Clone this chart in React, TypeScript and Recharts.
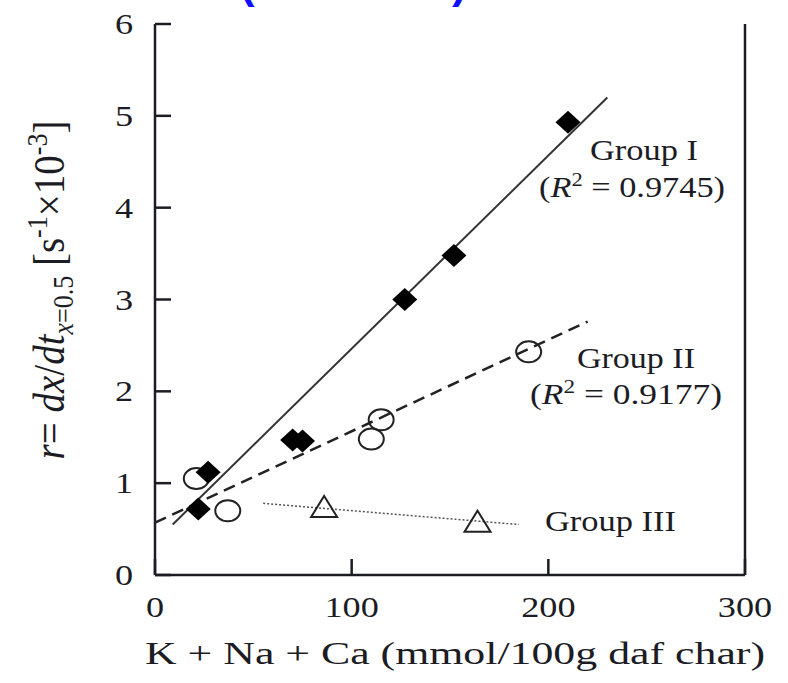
import { ScatterChart, Scatter, XAxis, YAxis } from 'recharts';

// Group I (filled diamonds)
const groupIX = [22, 27, 70, 75, 127, 152, 210];
const groupIY = [0.72, 1.12, 1.47, 1.46, 3.0, 3.48, 4.93];
// Group II (open circles)
const groupIIX = [21, 37, 110, 115, 190];
const groupIIY = [1.05, 0.7, 1.48, 1.69, 2.43];
// Group III (open triangles)
const groupIIIX = [86, 164];
const groupIIIY = [0.73, 0.57];

// fitted lines (end points)
const fitIX = [9, 230];
const fitIY = [0.55, 5.2];
const fitIIX = [0, 220];
const fitIIY = [0.57, 2.76];
const fitIIIX = [55, 185];
const fitIIIY = [0.78, 0.55];

const xTicks = [0, 100, 200, 300];
const xTicksTop = [100, 200];
const yTicks = [0, 1, 2, 3, 4, 5, 6];
const yTicksRight = [1, 2, 3, 4, 5];

const zip = (xs: number[], ys: number[]) => xs.map((x, i) => ({ x, y: ys[i] }));

const INK = '#1c1c24';
const FONT = '"Liberation Serif", "Times New Roman", serif';
const TICK = 16;

const BottomTick = (props: any) => {
  const { x, y, payload } = props;
  return (
    <g>
      <line x1={x} y1={y} x2={x} y2={y - TICK} stroke={INK} strokeWidth={2.5} />
      <text
        transform={`translate(${x},${y + 42}) scale(1.25,1)`}
        textAnchor="middle"
        fontFamily={FONT}
        fontSize={29}
        fill={INK}
      >
        {payload.value}
      </text>
    </g>
  );
};

const TopTick = (props: any) => {
  const { x, y } = props;
  return <line x1={x} y1={y} x2={x} y2={y + TICK} stroke={INK} strokeWidth={2.5} />;
};

const LeftTick = (props: any) => {
  const { x, y, payload } = props;
  return (
    <g>
      <line x1={x} y1={y} x2={x + TICK} y2={y} stroke={INK} strokeWidth={2.5} />
      <text
        transform={`translate(${x - 22},${y + 10}) scale(1.25,1)`}
        textAnchor="end"
        fontFamily={FONT}
        fontSize={29}
        fill={INK}
      >
        {payload.value}
      </text>
    </g>
  );
};

const RightTick = (props: any) => {
  const { x, y } = props;
  return <line x1={x} y1={y} x2={x - TICK} y2={y} stroke={INK} strokeWidth={2.5} />;
};

const Diamond = (props: any) => {
  const { cx, cy } = props;
  return (
    <polygon
      points={`${cx},${cy - 11.5} ${cx + 12.5},${cy} ${cx},${cy + 11.5} ${cx - 12.5},${cy}`}
      fill="#000"
    />
  );
};

const Circle = (props: any) => {
  const { cx, cy } = props;
  return <ellipse cx={cx} cy={cy} rx={12.5} ry={10.5} fill="none" stroke="#222" strokeWidth={2} />;
};

const Triangle = (props: any) => {
  const { cx, cy } = props;
  return (
    <polygon
      points={`${cx},${cy - 12} ${cx + 13},${cy + 9} ${cx - 13},${cy + 9}`}
      fill="none"
      stroke="#222"
      strokeWidth={2}
    />
  );
};

const NoDot = () => <g />;

export default function App() {
  return (
    <div style={{ position: 'absolute', left: 0, top: 0, background: '#fff' }}>
      <ScatterChart width={788} height={683} margin={{ top: 24, right: 33, bottom: 68, left: 95 }}>
        <XAxis
          xAxisId={0}
          type="number"
          dataKey="x"
          domain={[0, 300]}
          ticks={xTicks}
          height={40}
          tickSize={0}
          tickMargin={0}
          tickLine={false}
          tick={<BottomTick />}
          axisLine={{ stroke: INK, strokeWidth: 2.5 }}
          allowDataOverflow
        />
        <XAxis
          xAxisId="top"
          orientation="top"
          type="number"
          dataKey="x"
          domain={[0, 300]}
          ticks={xTicksTop}
          height={0}
          tickSize={0}
          tickMargin={0}
          tickLine={false}
          tick={<TopTick />}
          axisLine={{ stroke: INK, strokeWidth: 2.5 }}
        />
        <YAxis
          yAxisId={0}
          type="number"
          dataKey="y"
          domain={[0, 6]}
          ticks={yTicks}
          width={60}
          tickSize={0}
          tickMargin={0}
          tickLine={false}
          tick={<LeftTick />}
          axisLine={{ stroke: INK, strokeWidth: 2.5 }}
          allowDataOverflow
        />
        <YAxis
          yAxisId="right"
          orientation="right"
          type="number"
          dataKey="y"
          domain={[0, 6]}
          ticks={yTicksRight}
          width={10}
          tickSize={0}
          tickMargin={0}
          tickLine={false}
          tick={<RightTick />}
          axisLine={{ stroke: INK, strokeWidth: 2.5 }}
        />

        <Scatter
          data={zip(fitIX, fitIY)}
          line={{ stroke: '#333', strokeWidth: 2 }}
          shape={<NoDot />}
          isAnimationActive={false}
        />
        <Scatter
          data={zip(fitIIX, fitIIY)}
          line={{ stroke: '#222', strokeWidth: 2.5, strokeDasharray: '12 7' }}
          shape={<NoDot />}
          isAnimationActive={false}
        />
        <Scatter
          data={zip(fitIIIX, fitIIIY)}
          line={{ stroke: '#555', strokeWidth: 1.5, strokeDasharray: '2 2' }}
          shape={<NoDot />}
          isAnimationActive={false}
        />

        <Scatter data={zip(groupIIIX, groupIIIY)} shape={<Triangle />} isAnimationActive={false} />
        <Scatter data={zip(groupIIX, groupIIY)} shape={<Circle />} isAnimationActive={false} />
        <Scatter data={zip(groupIX, groupIY)} shape={<Diamond />} isAnimationActive={false} />

        <g fontFamily={FONT} fill={INK}>
          <text x={240} y={-2} fontFamily='"Liberation Sans", sans-serif' fontWeight="bold" fontSize={44} fill="#1010ff">(</text>
          <text x={452} y={-2} fontFamily='"Liberation Sans", sans-serif' fontWeight="bold" fontSize={44} fill="#1010ff">)</text>

          <text x={590} y={160} fontSize={29} textLength={108} lengthAdjust="spacingAndGlyphs">Group I</text>
          <text x={539} y={197} fontSize={29} textLength={186} lengthAdjust="spacingAndGlyphs">
            (<tspan fontStyle="italic">R</tspan>
            <tspan fontSize={19} dy={-11}>2</tspan>
            <tspan dy={11}> = 0.9745)</tspan>
          </text>

          <text x={577} y={368} fontSize={29} textLength={118} lengthAdjust="spacingAndGlyphs">Group II</text>
          <text x={530} y={404} fontSize={29} textLength={192} lengthAdjust="spacingAndGlyphs">
            (<tspan fontStyle="italic">R</tspan>
            <tspan fontSize={19} dy={-11}>2</tspan>
            <tspan dy={11}> = 0.9177)</tspan>
          </text>

          <text x={545} y={531} fontSize={29} textLength={131} lengthAdjust="spacingAndGlyphs">Group III</text>

          <text x={455} y={664} fontSize={32} textAnchor="middle" textLength={620} lengthAdjust="spacingAndGlyphs">
            K + Na + Ca (mmol/100g daf char)
          </text>

          <text transform="translate(64,290) rotate(-90) scale(1,1.15)" textAnchor="middle" fontSize={39}>
            <tspan fontStyle="italic">r</tspan>
            <tspan>{'= '}</tspan>
            <tspan fontStyle="italic">dx</tspan>
            <tspan>/</tspan>
            <tspan fontStyle="italic">dt</tspan>
            <tspan fontSize={26} dy={8} fontStyle="italic">x</tspan>
            <tspan fontSize={26}>=0.5</tspan>
            <tspan dy={-8}>{' [s'}</tspan>
            <tspan fontSize={26} dy={-15}>-1</tspan>
            <tspan dy={15}>×10</tspan>
            <tspan fontSize={26} dy={-15}>-3</tspan>
            <tspan dy={15}>]</tspan>
          </text>
        </g>
      </ScatterChart>
    </div>
  );
}
